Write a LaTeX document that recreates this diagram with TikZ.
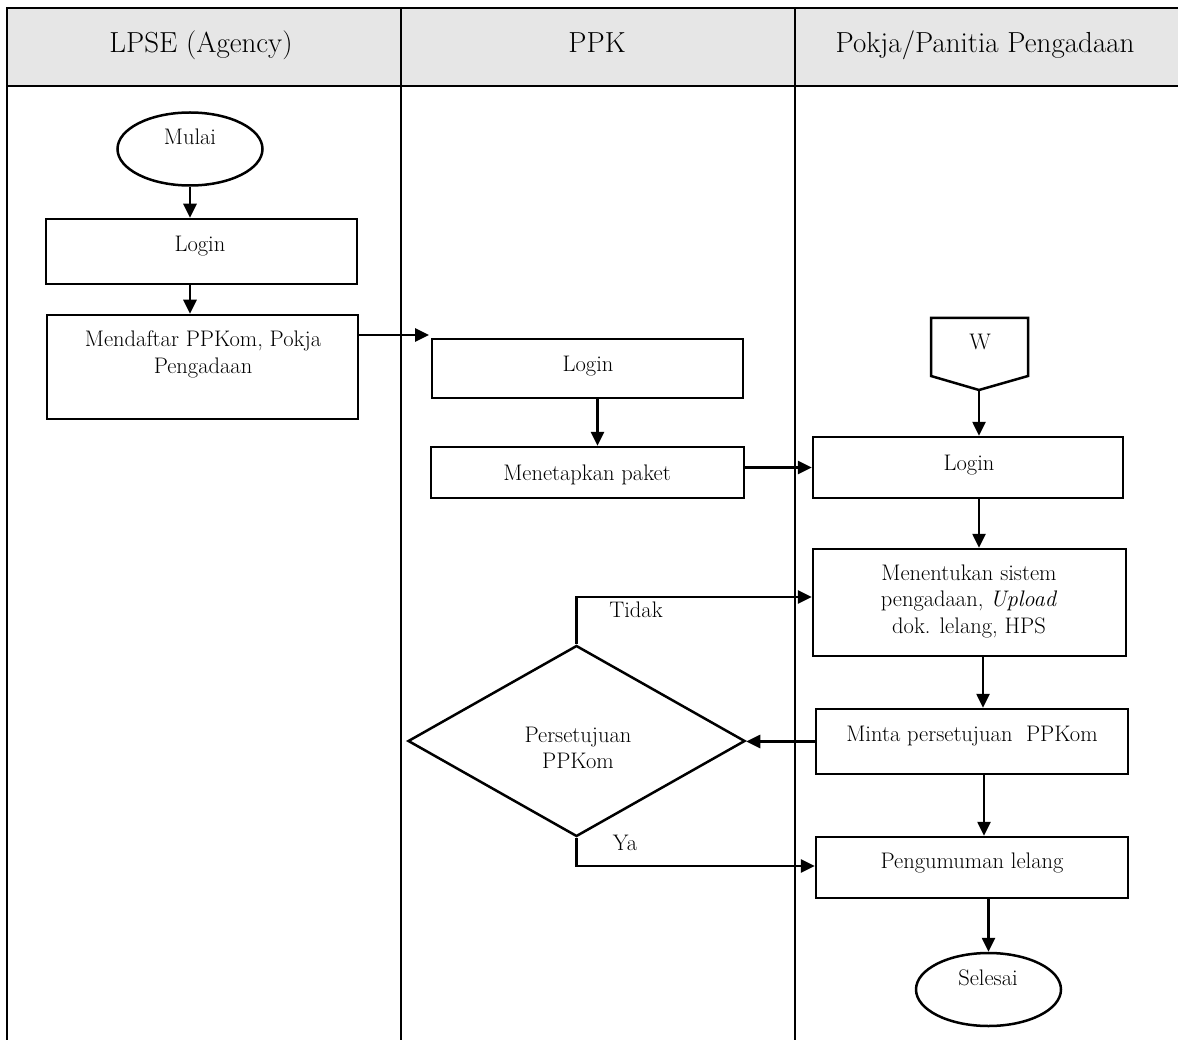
\documentclass[tikz,border=0pt]{standalone}
\usetikzlibrary{shapes.geometric,arrows.meta}
\definecolor{hdrfill}{HTML}{E6E6E6}
\newcommand{\bodyfont}{\fontsize{22.5}{26.5}\selectfont}
\newcommand{\hdrfont}{\fontsize{29}{34}\selectfont}
\newcommand{\ml}[1]{\begin{tabular}[t]{@{}c@{}}#1\end{tabular}}
\begin{document}
\begin{tikzpicture}[x=1pt,y=-1pt,
  tbl/.style={line width=2.6pt},
  box/.style={draw,line width=2.5pt,inner sep=0pt,rectangle},
  oval/.style={draw,line width=2.5pt,inner sep=0pt,ellipse,minimum width=145pt,minimum height=73pt},
  dec/.style={draw,line width=2.5pt,inner sep=0pt,diamond,minimum width=337pt,minimum height=191pt},
  txt/.style={anchor=base,inner sep=0pt,font=\bodyfont},
  hdr/.style={anchor=base,inner sep=0pt,font=\hdrfont},
  arr/.style={line width=2.6pt,-{Triangle[length=14pt,width=13pt]}}
]
\useasboundingbox (0,0) rectangle (1178,1040);
% table
\fill[hdrfill] (7,8) rectangle (1178,86);
\draw[tbl] (1178,8) -- (7,8) -- (7,1040);
\draw[tbl] (7,86) -- (1178,86);
\draw[tbl] (401,8) -- (401,1040);
\draw[tbl] (795,8) -- (795,1040);
\node[hdr] (h1) at (201,53) {LPSE (Agency)};
\node[hdr] (h2) at (597,53) {PPK};
\node[hdr] (h3) at (985,53) {Pokja/Panitia Pengadaan};

% shapes
\node[oval] (mulai) at (190,149) {};
\node[box,minimum width=311pt,minimum height=65pt] (login1) at (201.5,251.5) {};
\node[box,minimum width=311pt,minimum height=104pt] (daftar) at (202.5,367) {};
\node[box,minimum width=311pt,minimum height=59pt] (login2) at (587.5,368.5) {};
\node[box,minimum width=313pt,minimum height=51pt] (tetap) at (587.5,472.5) {};
\node[box,minimum width=310pt,minimum height=61pt] (login3) at (968,467.5) {};
\node[box,minimum width=313pt,minimum height=107pt] (tentu) at (969.5,602.5) {};
\node[box,minimum width=312pt,minimum height=65pt] (minta) at (972,741.5) {};
\node[box,minimum width=312pt,minimum height=61pt] (umum) at (972,867.5) {};
\node[oval] (selesai) at (988.5,989.5) {};
\node[dec] (dia) at (576.5,741) {};
\draw[line width=2.5pt,line join=miter] (931,318) -- (1028,318) -- (1028,376) -- (979,390) -- (931,376) -- cycle;
\coordinate (wtip) at (979,390);

% texts
\node[txt] (tmulai) at (190,145) {Mulai};
\node[txt] (tlogin1) at (200,252) {Login};
\node[txt] (tdaftar) at (203,347) {\ml{Mendaftar PPKom, Pokja\\Pengadaan}};
\node[txt] (tlogin2) at (588,372) {Login};
\node[txt] (ttetap) at (587,480) {Menetapkan paket};
\node[txt] (tw) at (980,350) {W};
\node[txt] (tlogin3) at (969,470) {Login};
\node[txt] (ttentu) at (969,580) {\ml{Menentukan sistem\\pengadaan, \textit{Upload}\\dok. lelang, HPS}};
\node[txt] (tminta) at (972,741) {Minta persetujuan\ \ PPKom};
\node[txt] (tdia) at (578,742) {\ml{Persetujuan\\PPKom}};
\node[txt] (tumum) at (972,868) {Pengumuman lelang};
\node[txt] (tsel) at (988,985) {Selesai};
\node[txt] (ttidak) at (636,617) {Tidak};
\node[txt] (tya) at (625,850) {Ya};

% connectors
\coordinate (a1) at (429,335);
\coordinate (ty) at (0,597);
\coordinate (yy) at (0,866);
\draw[arr] (mulai.south) -- (mulai.south |- login1.north);
\draw[arr] (login1.south -| mulai) -- (daftar.north -| mulai);
\draw[arr] (daftar.east |- a1) -- (a1);
\draw[arr] ([xshift=10pt]login2.south) -- ([xshift=10pt]login2.south |- tetap.north);
\draw[arr] (tetap.east |- login3.west) -- (login3.west);
\draw[arr] (wtip) -- (wtip |- login3.north);
\draw[arr] (login3.south -| wtip) -- (tentu.north -| wtip);
\draw[arr] ([xshift=13.5pt]tentu.south) -- ([xshift=13.5pt]tentu.south |- minta.north);
\draw[arr] (minta.west) -- (dia.east |- minta.west);
\draw[arr] ([xshift=12pt]minta.south) -- ([xshift=12pt]minta.south |- umum.north);
\draw[arr] (selesai.north |- umum.south) -- (selesai.north);
\draw[arr] (dia.north) |- (tentu.west |- ty);
\draw[arr] (dia.south) |- (umum.west |- yy);
\end{tikzpicture}
\end{document}
